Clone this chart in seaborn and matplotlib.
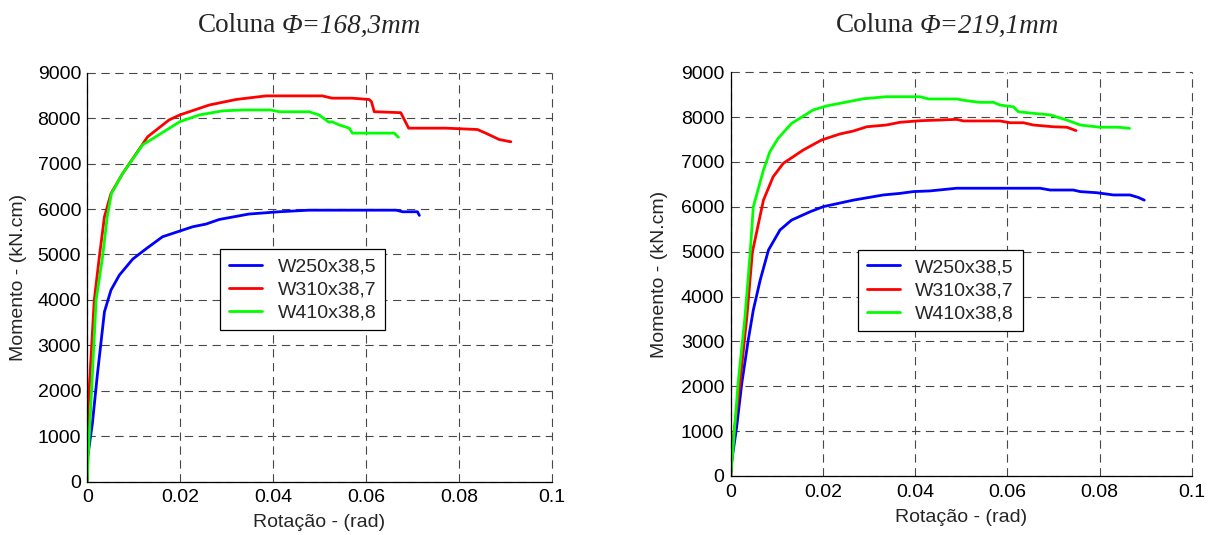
import matplotlib
matplotlib.use("Agg")
import matplotlib.pyplot as plt
import numpy as np
import pandas as pd
import seaborn as sns

# ---- series shared by both panels ----
series_names = ["W250x38,5", "W310x38,7", "W410x38,8"]
series_colors = ["#0000ff", "#ff0000", "#00ff00"]

x_ticks = [0, 0.02, 0.04, 0.06, 0.08, 0.1]
x_tick_labels = ["0", "0.02", "0.04", "0.06", "0.08", "0.1"]
y_ticks = [0, 1000, 2000, 3000, 4000, 5000, 6000, 7000, 8000, 9000]

# ---- Coluna Φ=168,3mm : rotation (rad) / moment (kN.cm) ----
c168_w250_rot = [0, 0.0001, 0.0011, 0.0022, 0.0037, 0.0051, 0.0069, 0.0098, 0.0126,
                 0.0162, 0.0227, 0.0256, 0.0284, 0.0348, 0.0413, 0.0477, 0.0665,
                 0.0679, 0.0711, 0.0715]
c168_w250_mom = [0, 550, 1280, 2380, 3740, 4215, 4545, 4900, 5120,
                 5390, 5610, 5670, 5770, 5890, 5940, 5975, 5975,
                 5940, 5940, 5860]

c168_w310_rot = [0, 0.0002, 0.0015, 0.0026, 0.0037, 0.0051, 0.0076, 0.0130, 0.0176,
                 0.0199, 0.0263, 0.0320, 0.0385, 0.0506, 0.0527, 0.0570, 0.0607,
                 0.0612, 0.0618, 0.0624, 0.0675, 0.0692, 0.0772, 0.0840, 0.0858,
                 0.0887, 0.0912]
c168_w310_mom = [0, 1650, 3990, 4950, 5830, 6340, 6780, 7590, 7960,
                 8070, 8290, 8410, 8490, 8490, 8440, 8440, 8410,
                 8360, 8140, 8140, 8120, 7780, 7780, 7750, 7670,
                 7530, 7480]

c168_w410_rot = [0, 0.0002, 0.0019, 0.0033, 0.0043, 0.0052, 0.0076, 0.0119, 0.0199,
                 0.0241, 0.0291, 0.0334, 0.0395, 0.0414, 0.0478, 0.0499, 0.0514,
                 0.0520, 0.0527, 0.0543, 0.0564, 0.0571, 0.0661, 0.0670]
c168_w410_mom = [0, 550, 3990, 4950, 5830, 6340, 6780, 7410, 7920,
                 8070, 8160, 8180, 8180, 8140, 8140, 8070, 7960,
                 7910, 7920, 7850, 7780, 7670, 7670, 7580]

# ---- Coluna Φ=219,1mm ----
c219_w250_rot = [0, 0.0002, 0.0013, 0.0024, 0.0038, 0.0049, 0.0064, 0.0082, 0.0107,
                 0.0132, 0.0172, 0.0201, 0.0266, 0.0331, 0.0367, 0.0396, 0.0432,
                 0.0490, 0.0671, 0.0693, 0.0743, 0.0758, 0.0794, 0.0830, 0.0866,
                 0.0884, 0.0897]
c219_w250_mom = [0, 320, 1100, 2065, 3030, 3700, 4370, 5040, 5485,
                 5705, 5890, 6005, 6150, 6265, 6300, 6340, 6355,
                 6415, 6415, 6375, 6375, 6340, 6315, 6265, 6265,
                 6210, 6150]

c219_w310_rot = [0, 0.0006, 0.0020, 0.0035, 0.0047, 0.0071, 0.0092, 0.0114, 0.0157,
                 0.0197, 0.0237, 0.0266, 0.0295, 0.0338, 0.0367, 0.0411, 0.0490,
                 0.0505, 0.0584, 0.0606, 0.0635, 0.0656, 0.0700, 0.0729, 0.0749]
c219_w310_mom = [0, 875, 2065, 3550, 4990, 6150, 6670, 6970, 7265,
                 7490, 7625, 7690, 7785, 7825, 7885, 7920, 7950,
                 7915, 7915, 7875, 7875, 7825, 7785, 7775, 7700]

c219_w410_rot = [0, 0.0003, 0.0016, 0.0031, 0.0042, 0.0049, 0.0071, 0.0085, 0.0103,
                 0.0132, 0.0179, 0.0208, 0.0288, 0.0338, 0.0411, 0.0429, 0.0490,
                 0.0512, 0.0541, 0.0570, 0.0584, 0.0613, 0.0624, 0.0656, 0.0693,
                 0.0729, 0.0758, 0.0801, 0.0841, 0.0865]
c219_w410_mom = [0, 350, 2070, 3550, 4950, 6000, 6820, 7230, 7530,
                 7860, 8160, 8250, 8410, 8455, 8455, 8405, 8405,
                 8365, 8330, 8330, 8270, 8230, 8120, 8085, 8050,
                 7935, 7825, 7775, 7775, 7750]


def long_table(rots, moms):
    frames = []
    for name, r, m in zip(series_names, rots, moms):
        frames.append(pd.DataFrame({"rot": r, "mom": m, "perfil": name}))
    return pd.concat(frames, ignore_index=True)


panel_168 = long_table([c168_w250_rot, c168_w310_rot, c168_w410_rot],
                       [c168_w250_mom, c168_w310_mom, c168_w410_mom])
panel_219 = long_table([c219_w250_rot, c219_w310_rot, c219_w410_rot],
                       [c219_w250_mom, c219_w310_mom, c219_w410_mom])

sns.set_style("white")
plt.rcParams["font.family"] = ["Liberation Sans", "DejaVu Sans"]
plt.rcParams["font.size"] = 14

fig = plt.figure(figsize=(12.12, 5.35), dpi=100)
ax_l = fig.add_axes([0.0720, 0.0996, 0.3832, 0.7645])
ax_r = fig.add_axes([0.6029, 0.1103, 0.3804, 0.7546])

palette = dict(zip(series_names, series_colors))
LABEL_FS = 14


def draw_panel(ax, data, legend_anchor, xlabel_y, ylabel_x):
    sns.lineplot(data=data, x="rot", y="mom", hue="perfil", palette=palette,
                 sort=False, estimator=None, units="perfil", lw=2.0, ax=ax,
                 legend=False)
    ax.set_xlim(0, 0.1)
    ax.set_ylim(0, 9000)
    ax.set_xticks(x_ticks)
    ax.set_xticklabels(x_tick_labels)
    ax.set_yticks(y_ticks)
    ax.set_yticklabels([str(v) for v in y_ticks])
    ax.set_axisbelow(True)
    ax.grid(True, color="#484848", lw=0.8, linestyle=(0, (7.5, 5)))
    for gl in ax.get_xgridlines() + ax.get_ygridlines():
        gl.set_clip_on(False)
    for side in ("top", "right"):
        ax.spines[side].set_visible(False)
    for side in ("left", "bottom"):
        ax.spines[side].set_color("black")
        ax.spines[side].set_linewidth(0.9)
    ax.tick_params(axis="both", direction="in", length=4, width=0.8,
                   colors="black", labelsize=LABEL_FS)
    ax.tick_params(axis="x", pad=5.5)
    ax.tick_params(axis="y", pad=4.5)
    ax.set_xlabel("Rotação - (rad)", fontsize=LABEL_FS)
    ax.set_ylabel("Momento - (kN.cm)", fontsize=LABEL_FS)
    ax.xaxis.set_label_coords(0.5, xlabel_y)
    ax.yaxis.set_label_coords(ylabel_x, 0.5)

    handles = [plt.Line2D([], [], color=c, lw=2.0) for c in series_colors]
    leg = ax.legend(handles, series_names, loc="upper left",
                    bbox_to_anchor=legend_anchor, borderaxespad=0,
                    fontsize=LABEL_FS, frameon=True, fancybox=False, framealpha=1,
                    edgecolor="black", handlelength=1.7, handletextpad=0.8,
                    labelspacing=0.28, borderpad=0.45)
    leg.get_frame().set_linewidth(0.9)


draw_panel(ax_l, panel_168, (0.286, 0.569), -0.079, -0.13)
draw_panel(ax_r, panel_219, (0.276, 0.560), -0.082, -0.136)

# panel titles: upright word, italic diameter
title_kw = dict(fontsize=19.5, family=["Liberation Serif", "DejaVu Serif"],
                va="baseline")
base_y = 1 - 32.5 / 535
fig.text(276 / 1212, base_y, "Coluna", ha="right", **title_kw)
fig.text(282 / 1212, base_y, "Φ=168,3mm", ha="left", style="italic", **title_kw)
fig.text(914 / 1212, base_y, "Coluna", ha="right", **title_kw)
fig.text(920 / 1212, base_y, "Φ=219,1mm", ha="left", style="italic", **title_kw)

fig.savefig("out.png", dpi=100)
